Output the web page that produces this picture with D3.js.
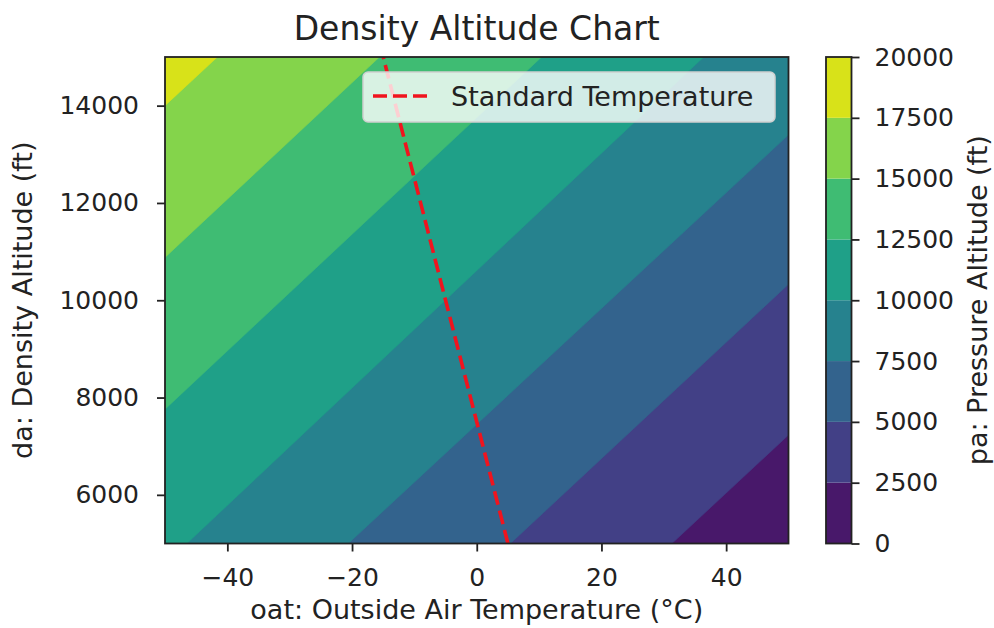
<!DOCTYPE html>
<html>
<head>
<meta charset="utf-8">
<script src="https://cdn.jsdelivr.net/npm/d3@7"></script>
<style>
  html, body { margin: 0; padding: 0; background: #fff; }
  svg { display: block; font-family: "DejaVu Sans", sans-serif; }
</style>
</head>
<body>
<div class="display__svg"></div>
<script>
// contour levels of pressure altitude (ft)
const levels = [0, 2500, 5000, 7500, 10000, 12500, 15000, 17500, 20000];

// boundary lines between bands (start / end on plot edges)
const boundaryLevels = [2500, 5000, 7500, 10000, 12500, 15000, 17500];
const boundaryStartOat = [31.3, 5.4, -20.6, -46.5, -50, -50, -50];
const boundaryStartDa = [5000, 5000, 5000, 5000, 7760, 10880, 14000];
const boundaryEndOat = [50, 50, 50, 36.4, 10.4, -15.6, -41.6];
const boundaryEndDa = [7230, 10330, 13400, 15000, 15000, 15000, 15000];

// standard temperature line
const stdOat = [5, -15];
const stdDa = [5000, 15000];

// axis ticks
const xTicks = [-40, -20, 0, 20, 40];
const yTicks = [6000, 8000, 10000, 12000, 14000];
const cbTicks = [0, 2500, 5000, 7500, 10000, 12500, 15000, 17500, 20000];

const width = 994, height = 628;
const plot = { left: 165, right: 788.5, top: 57, bottom: 543.5 };
const numSize = "25px", wordSize = "27px";

const svg = d3.select(".display__svg")
  .append("svg")
  .attr("width", width)
  .attr("height", height);

const xScale = d3.scaleLinear().domain([-50, 50]).range([plot.left, plot.right]);
const yScale = d3.scaleLinear().domain([5000, 15000]).range([plot.bottom, plot.top]);

// band colour = viridis at the middle of the band
const bandColor = i => d3.interpolateViridis((i + 0.5) / (levels.length - 1));

//clip region of plot
svg.append("clipPath")
  .attr("id", "plot-clip")
  .append("rect")
  .attr("x", plot.left)
  .attr("y", plot.top)
  .attr("width", plot.right - plot.left)
  .attr("height", plot.bottom - plot.top);

const bands = svg.append("g").attr("clip-path", "url(#plot-clip)");

// lowest band fills everything first
bands.append("rect")
  .attr("x", xScale(-50))
  .attr("y", yScale(15000))
  .attr("width", xScale(50) - xScale(-50))
  .attr("height", yScale(5000) - yScale(15000))
  .attr("fill", bandColor(0));

// every band above a boundary: polygon going round the top-left corner
const line = d3.line().x(d => xScale(d[0])).y(d => yScale(d[1]));
boundaryLevels.forEach((lev, i) => {
  const pts = [
    [boundaryStartOat[i], boundaryStartDa[i]],
    [boundaryEndOat[i], boundaryEndDa[i]]
  ];
  if (boundaryEndOat[i] >= 50 && boundaryEndDa[i] < 15000) pts.push([50, 15000]);
  pts.push([-50, 15000]);
  if (boundaryStartDa[i] <= 5000 && boundaryStartOat[i] > -50) pts.push([-50, 5000]);
  bands.append("path")
    .attr("d", line(pts) + "Z")
    .attr("fill", bandColor(i + 1))
    .attr("stroke", bandColor(i + 1))
    .attr("stroke-width", 0.6);
});

// standard temperature dashed line
svg.append("path")
  .attr("clip-path", "url(#plot-clip)")
  .attr("d", line(stdOat.map((t, i) => [t, stdDa[i]])))
  .attr("fill", "none")
  .attr("stroke", "#f0141e")
  .attr("stroke-width", 3.6)
  .attr("stroke-dasharray", "14,6");

// axes
const xAxis = d3.axisBottom(xScale).tickValues(xTicks).tickSizeInner(8).tickSizeOuter(0)
  .tickFormat(d => d < 0 ? "\u2212" + Math.abs(d) : d);
const yAxis = d3.axisLeft(yScale).tickValues(yTicks).tickSizeInner(8).tickSizeOuter(0)
  .tickFormat(d3.format("d"));

const xg = svg.append("g")
  .attr("transform", `translate(0,${plot.bottom})`)
  .call(xAxis);
const yg = svg.append("g")
  .attr("transform", `translate(${plot.left},0)`)
  .call(yAxis);

[xg, yg].forEach(g => {
  g.select(".domain").remove();
  g.selectAll("line").attr("stroke", "#222").attr("stroke-width", 1.8);
  g.selectAll("text")
    .attr("fill", "#222")
    .style("font-size", numSize)
    .style("font-family", "DejaVu Sans");
});
xg.selectAll("text").attr("dy", 0).attr("y", 42);
yg.selectAll("text").attr("x", -26);

// frame of plot
svg.append("rect")
  .attr("x", plot.left)
  .attr("y", plot.top)
  .attr("width", plot.right - plot.left)
  .attr("height", plot.bottom - plot.top)
  .attr("fill", "none")
  .attr("stroke", "#222")
  .attr("stroke-width", 1.8);

// legend
const legend = svg.append("g").attr("class", "legend");
legend.append("rect")
  .attr("x", 363)
  .attr("y", 72)
  .attr("width", 412)
  .attr("height", 50)
  .attr("rx", 5)
  .attr("fill", "rgba(255,255,255,0.8)")
  .attr("stroke", "#d0d0d0")
  .attr("stroke-width", 1.5);
legend.append("line")
  .attr("x1", 373).attr("x2", 429)
  .attr("y1", 96).attr("y2", 96)
  .attr("stroke", "#f0141e")
  .attr("stroke-width", 3.6)
  .attr("stroke-dasharray", "14,6");
legend.append("text")
  .attr("x", 451)
  .attr("y", 106)
  .attr("fill", "#222")
  .style("font-size", wordSize)
  .text("Standard Temperature");

// colorbar
const cb = { x: 826, w: 25.5 };
const cScale = d3.scaleLinear().domain([0, 20000]).range([plot.bottom, plot.top]);
const cbg = svg.append("g");
cbg.selectAll("rect.band")
  .data(d3.range(levels.length - 1))
  .enter()
  .append("rect")
  .attr("class", "band")
  .attr("x", cb.x)
  .attr("y", i => cScale(levels[i + 1]))
  .attr("width", cb.w)
  .attr("height", i => cScale(levels[i]) - cScale(levels[i + 1]))
  .attr("fill", i => bandColor(i));
cbg.append("rect")
  .attr("x", cb.x)
  .attr("y", plot.top)
  .attr("width", cb.w)
  .attr("height", plot.bottom - plot.top)
  .attr("fill", "none")
  .attr("stroke", "#222")
  .attr("stroke-width", 1.8);

const cAxis = d3.axisRight(cScale).tickValues(cbTicks).tickSizeInner(8).tickSizeOuter(0)
  .tickFormat(d3.format("d"));
const cg = svg.append("g")
  .attr("transform", `translate(${cb.x + cb.w},0)`)
  .call(cAxis);
cg.select(".domain").remove();
cg.selectAll("line").attr("stroke", "#222").attr("stroke-width", 1.8);
cg.selectAll("text")
  .attr("x", 23)
  .attr("fill", "#222")
  .style("font-size", numSize)
  .style("font-family", "DejaVu Sans");

// titles and axis labels
svg.append("text")
  .attr("x", (plot.left + plot.right) / 2)
  .attr("y", 40)
  .attr("text-anchor", "middle")
  .attr("fill", "#222")
  .style("font-size", "33px")
  .text("Density Altitude Chart");

svg.append("text")
  .attr("x", (plot.left + plot.right) / 2)
  .attr("y", 619)
  .attr("text-anchor", "middle")
  .attr("fill", "#222")
  .style("font-size", wordSize)
  .text("oat: Outside Air Temperature (°C)");

svg.append("text")
  .attr("transform", `translate(32,${(plot.top + plot.bottom) / 2}) rotate(-90)`)
  .attr("text-anchor", "middle")
  .attr("fill", "#222")
  .style("font-size", wordSize)
  .text("da: Density Altitude (ft)");

svg.append("text")
  .attr("transform", `translate(987,${(plot.top + plot.bottom) / 2}) rotate(-90)`)
  .attr("text-anchor", "middle")
  .attr("fill", "#222")
  .style("font-size", wordSize)
  .text("pa: Pressure Altitude (ft)");
</script>
</body>
</html>
